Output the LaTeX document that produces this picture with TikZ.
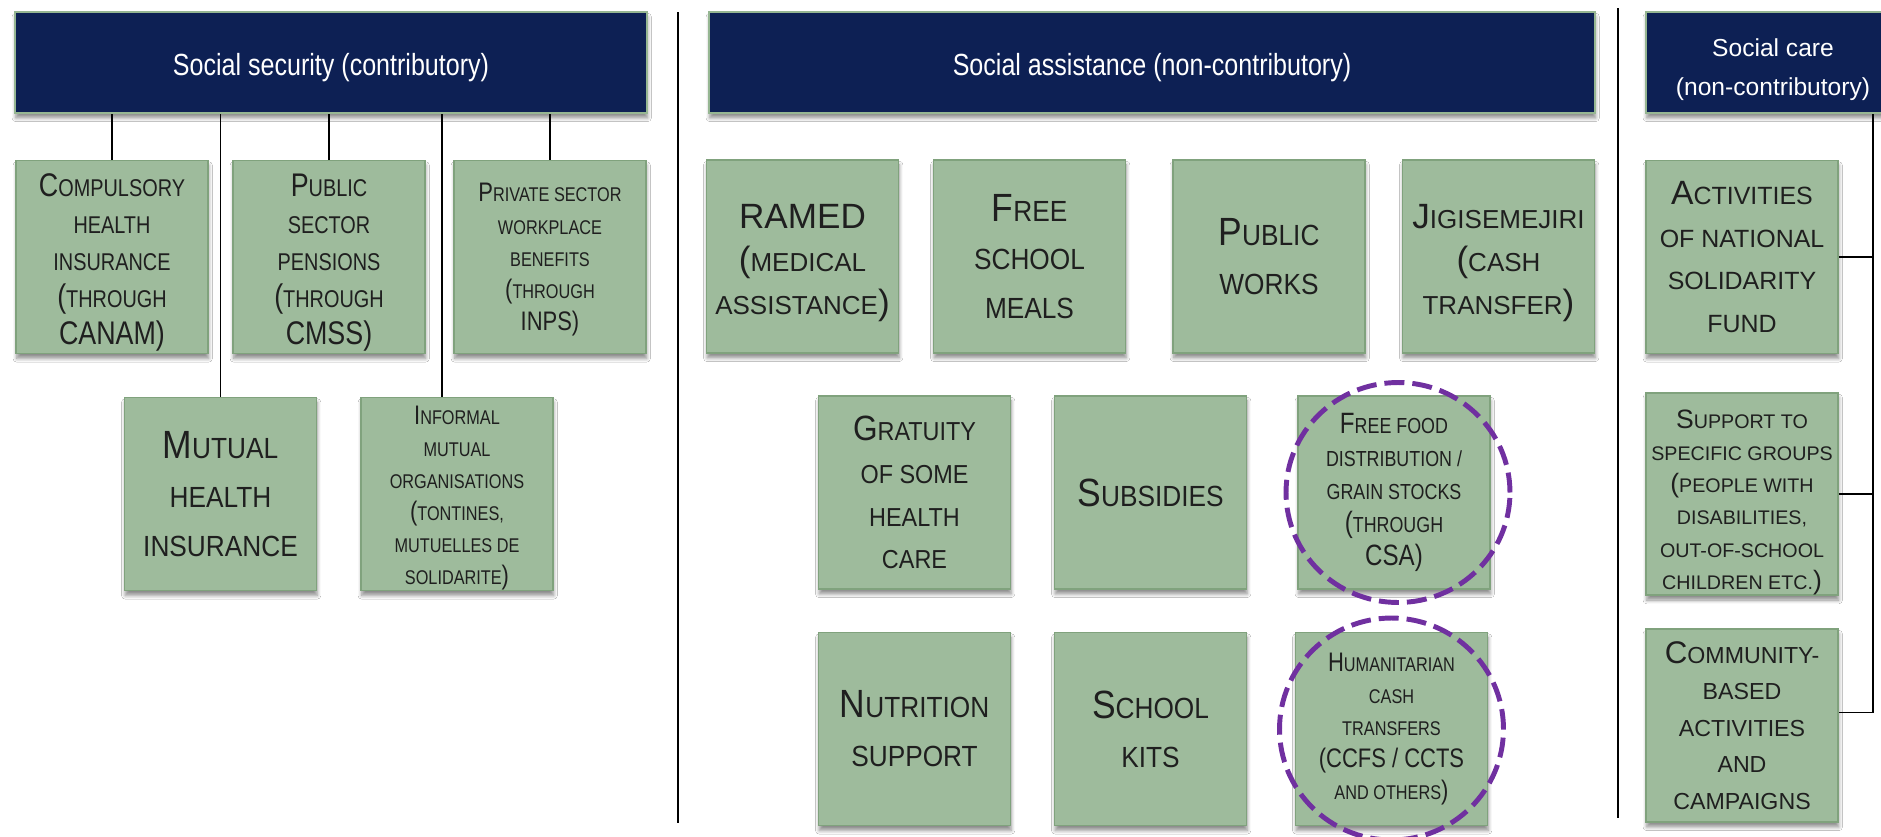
\documentclass[tikz,border=0pt]{standalone}
\usepackage{fontspec}
\setmainfont{Liberation Sans}[FakeStretch=0.82]
\newfontfamily\midfont{Liberation Sans}[FakeStretch=0.9]
\newfontfamily\carefont{Liberation Sans}
\usepackage{graphicx}
\usetikzlibrary{shadows.blur}
\definecolor{navy}{RGB}{13,32,84}
\definecolor{sage}{RGB}{158,187,156}
\definecolor{sageline}{RGB}{128,162,125}
\definecolor{hdline}{RGB}{150,182,146}
\definecolor{hilite}{RGB}{112,48,160}
% first letter of a small-caps word
\newcommand\ini[1]{\scalebox{1.35}{#1}}
% taller first line, pushes a text block down
\newcommand\lowr[1]{\rule{0pt}{#1}}

\begin{document}
\begin{tikzpicture}[x=0.02cm, y=-0.02cm,
  sh/.style={blur shadow={shadow xshift=0.4pt, shadow yshift=-2.8pt, shadow blur steps=6, shadow opacity=45}},
  head/.style={draw=hdline, line width=1.5pt, fill=navy, text=white, minimum width=#1, minimum height=2.02cm, inner sep=0pt, align=center, text height=18pt, font=\fontsize{17.4}{21}\selectfont, sh},
  prog/.style={draw=sageline, line width=1pt, fill=sage, text=black!88, minimum width=3.84cm, minimum height=3.86cm, inner sep=0pt, align=center, sh},
  lg/.style={prog, font=\midfont\fontsize{16.6}{27.8}\selectfont},
  md/.style={prog, font=\midfont\fontsize{14.8}{24.4}\selectfont},
  nm/.style={prog, font=\fontsize{13.8}{21}\selectfont},
  sm/.style={prog, font=\fontsize{12.4}{18.8}\selectfont},
  xs/.style={prog, font=\fontsize{11.3}{18.3}\selectfont},
  link/.style={line width=1.1pt},
  hl/.style={draw=hilite, line width=2.8pt, dash pattern=on 0.4cm off 0.16cm}]
\useasboundingbox (0,0) rectangle (1881,836);
\clip (0,0) rectangle (1881,836);
\fill[white] (0,0) rectangle (1881,836);
% column heads
\node[head=12.64cm] (ss) at (331,62.5) {Social security (contributory)};
\node[head=17.72cm] (sa) at (1152,62.5) {Social assistance (non-contributory)};
\node[head=5.08cm, text height=40pt, font=\carefont\fontsize{14}{21.7}\selectfont] (sc) at (1773,62.5) {Social care\\(non-contributory)};
\draw[link] (678,12) -- (678,823);
\draw[link] (1618,8) -- (1618,818);
% contributory
\node[nm] (chi) at (112,257) {\lowr{19pt}\ini{C}OMPULSORY\\HEALTH\\INSURANCE\\\ini{(}THROUGH\\\ini{CANAM)}};
\node[nm] (pub) at (329,257) {\lowr{19pt}\ini{P}UBLIC\\SECTOR\\PENSIONS\\\ini{(}THROUGH\\\ini{CMSS)}};
\node[xs] (priv) at (550,257) {\lowr{13.7pt}\ini{P}RIVATE SECTOR\\WORKPLACE\\BENEFITS\\\ini{(}THROUGH\\\ini{INPS)}};
\node[lg] (mhi) at (220.5,494) {\ini{M}UTUAL\\HEALTH\\INSURANCE};
\node[xs] (inf) at (457,494) {\lowr{15pt}\ini{I}NFORMAL\\MUTUAL\\ORGANISATIONS\\\ini{(}TONTINES,\\MUTUELLES DE\\SOLIDARITE\ini{)}};
\draw[link] (chi.north) -- (chi.north |- ss.south); \draw[link] (pub.north) -- (pub.north |- ss.south); \draw[link] (priv.north) -- (priv.north |- ss.south);
\draw[link] (mhi.north) -- (mhi.north |- ss.south); \draw[link] ([xshift=-0.3cm]inf.north) -- ([xshift=-0.3cm]inf.north |- ss.south);
% non-contributory assistance
\node[md, font=\carefont\fontsize{14.8}{24.4}\selectfont] (ramed) at (802.5,256.5) {\lowr{21pt}\ini{RAMED}\\\ini{(}MEDICAL\\ASSISTANCE\ini{)}};
\node[lg] (fsm) at (1029.5,256.5) {\ini{F}REE\\SCHOOL\\MEALS};
\node[lg] (pw) at (1269,256.5) {\ini{P}UBLIC\\WORKS};
\node[md, font=\carefont\fontsize{14.8}{24.4}\selectfont] (jigi) at (1498.5,256.5) {\lowr{21pt}\ini{J}IGISEMEJIRI\\\ini{(}CASH\\TRANSFER\ini{)}};
\node[md] (grat) at (914.5,492.5) {\ini{G}RATUITY\\OF SOME\\HEALTH\\CARE};
\node[lg] (subs) at (1150.5,492.5) {\ini{S}UBSIDIES};
\node[sm] (food) at (1394,492.5) {\ini{F}REE FOOD\\DISTRIBUTION /\\GRAIN STOCKS\\\ini{(}THROUGH\\\ini{CSA)}};
\node[lg] (nut) at (914.5,729) {\ini{N}UTRITION\\SUPPORT};
\node[lg] (kits) at (1150.5,729) {\ini{S}CHOOL\\KITS};
\node[xs] (hum) at (1391.5,729) {\ini{H}UMANITARIAN\\CASH\\TRANSFERS\\\ini{(CCFS / CCTS}\\AND OTHERS\ini{)}};
\draw[hl] (food.center) ++(4,0) ellipse [x radius=2.24cm, y radius=2.2cm];
\draw[hl] (hum.center) ellipse [x radius=2.24cm, y radius=2.22cm];
% social care
\node[nm, font=\carefont\fontsize{14.2}{24.4}\selectfont] (act) at (1742,257) {\ini{A}CTIVITIES\\OF NATIONAL\\SOLIDARITY\\FUND};
\node[xs, font=\carefont\fontsize{11.2}{18.4}\selectfont] (sup) at (1742,494) {\lowr{20pt}\ini{S}UPPORT TO\\SPECIFIC GROUPS\\\ini{(}PEOPLE WITH\\DISABILITIES,\\OUT-OF-SCHOOL\\CHILDREN ETC.\ini{)}};
\node[nm, font=\carefont\fontsize{13.2}{20.8}\selectfont] (com) at (1742,725.5) {\ini{C}OMMUNITY-\\BASED\\ACTIVITIES\\AND\\CAMPAIGNS};
\coordinate (bus) at (1873,0);
\draw[link] (sc.south -| bus) |- ([yshift=0.26cm]com.east);
\draw[link] (act.east) -- (act.east -| bus); \draw[link] (sup.east) -- (sup.east -| bus);
\end{tikzpicture}
\end{document}
